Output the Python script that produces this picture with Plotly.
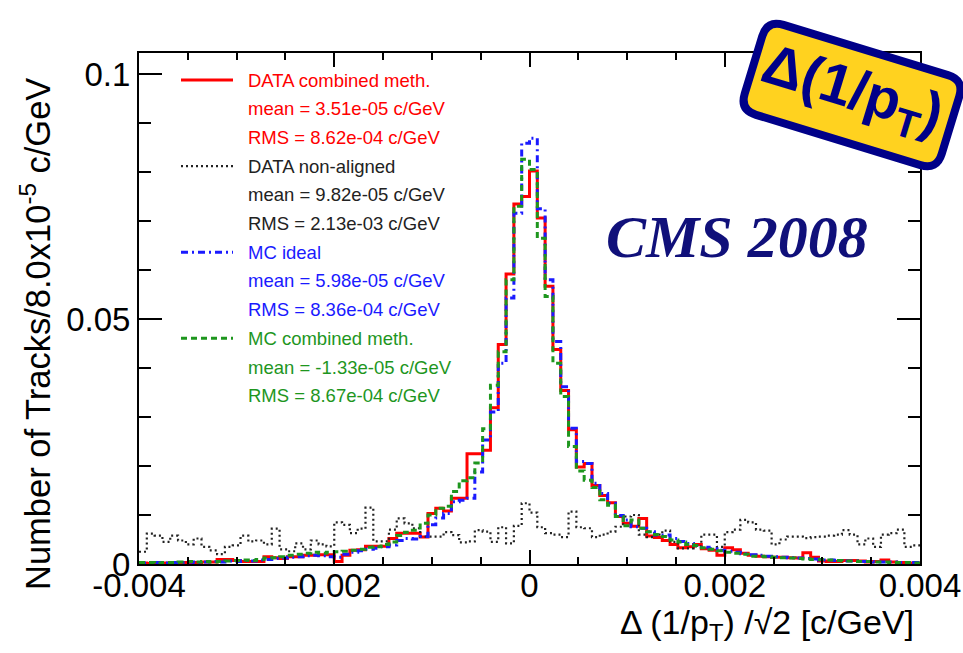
import math
import numpy as np
import plotly.graph_objects as go

# ---------------- data ----------------
x_min, x_max, n_bins = -0.004, 0.004, 100
bin_edges = np.linspace(x_min, x_max, n_bins + 1)

data_combined = [
    0.0002, 0.0001, 0.0002, 0.0002, 0.0003, 0.0003, 0.0002, 0.0003, 0.0004, 0.0004,
    0.0009, 0.0009, 0.0007, 0.0005, 0.0005, 0.0005, 0.0015, 0.0013, 0.0011, 0.0015,
    0.0015, 0.0018, 0.0018, 0.0019, 0.0019, 0.0005, 0.0018, 0.0028, 0.0029, 0.0036,
    0.0036, 0.0036, 0.0052, 0.0063, 0.0063, 0.0063, 0.0055, 0.0103, 0.0114, 0.0108,
    0.0134, 0.0134, 0.0225, 0.0225, 0.0232, 0.0319, 0.0448, 0.0592, 0.0735, 0.0750,
    0.0802, 0.0706, 0.0567, 0.0438, 0.0354, 0.0274, 0.0198, 0.0205, 0.0160, 0.0140,
    0.0125, 0.0097, 0.0083, 0.0077, 0.0093, 0.0057, 0.0054, 0.0048, 0.0040, 0.0033,
    0.0035, 0.0040, 0.0031, 0.0028, 0.0018, 0.0033, 0.0029, 0.0022, 0.0018, 0.0016,
    0.0015, 0.0014, 0.0014, 0.0013, 0.0012, 0.0023, 0.0014, 0.0006, 0.0005, 0.0005,
    0.0007, 0.0007, 0.0006, 0.0004, 0.0005, 0.0008, 0.0004, 0.0003, 0.0002, 0.0002,
]
data_nonaligned = [
    0.0025, 0.0062, 0.0058, 0.0045, 0.0058, 0.0048, 0.0040, 0.0052, 0.0035, 0.0028,
    0.0020, 0.0035, 0.0038, 0.0058, 0.0046, 0.0048, 0.0040, 0.0072, 0.0030, 0.0026,
    0.0042, 0.0030, 0.0048, 0.0040, 0.0036, 0.0085, 0.0080, 0.0063, 0.0072, 0.0115,
    0.0046, 0.0046, 0.0070, 0.0093, 0.0083, 0.0073, 0.0056, 0.0056, 0.0056, 0.0065,
    0.0059, 0.0044, 0.0046, 0.0069, 0.0066, 0.0045, 0.0075, 0.0042, 0.0078, 0.0124,
    0.0105, 0.0075, 0.0063, 0.0060, 0.0055, 0.0107, 0.0075, 0.0073, 0.0055, 0.0060,
    0.0066, 0.0076, 0.0097, 0.0100, 0.0060, 0.0055, 0.0060, 0.0068, 0.0045, 0.0032,
    0.0032, 0.0036, 0.0060, 0.0060, 0.0035, 0.0065, 0.0070, 0.0090, 0.0085, 0.0070,
    0.0068, 0.0040, 0.0050, 0.0056, 0.0056, 0.0053, 0.0055, 0.0056, 0.0058, 0.0060,
    0.0069, 0.0060, 0.0040, 0.0052, 0.0035, 0.0060, 0.0063, 0.0070, 0.0035, 0.0038,
]
mc_ideal = [
    0.0002, 0.0002, 0.0003, 0.0002, 0.0003, 0.0003, 0.0004, 0.0003, 0.0004, 0.0005,
    0.0004, 0.0006, 0.0005, 0.0007, 0.0006, 0.0008, 0.0009, 0.0011, 0.0012, 0.0014,
    0.0015, 0.0017, 0.0018, 0.0017, 0.0015, 0.0014, 0.0020, 0.0024, 0.0027, 0.0030,
    0.0032, 0.0035, 0.0039, 0.0048, 0.0052, 0.0051, 0.0056, 0.0080, 0.0094, 0.0103,
    0.0127, 0.0130, 0.0134, 0.0188, 0.0253, 0.0310, 0.0410, 0.0543, 0.0716, 0.0859,
    0.0869, 0.0725, 0.0580, 0.0454, 0.0362, 0.0277, 0.0209, 0.0205, 0.0165, 0.0144,
    0.0124, 0.0099, 0.0090, 0.0076, 0.0073, 0.0066, 0.0059, 0.0059, 0.0052, 0.0046,
    0.0042, 0.0038, 0.0034, 0.0031, 0.0028, 0.0026, 0.0024, 0.0021, 0.0019, 0.0018,
    0.0016, 0.0015, 0.0014, 0.0013, 0.0012, 0.0011, 0.0010, 0.0008, 0.0008, 0.0007,
    0.0006, 0.0006, 0.0005, 0.0005, 0.0004, 0.0004, 0.0004, 0.0003, 0.0003, 0.0003,
]
mc_combined = [
    0.0003, 0.0003, 0.0002, 0.0003, 0.0003, 0.0004, 0.0005, 0.0004, 0.0005, 0.0004,
    0.0005, 0.0006, 0.0007, 0.0008, 0.0007, 0.0009, 0.0012, 0.0013, 0.0015, 0.0018,
    0.0020, 0.0022, 0.0024, 0.0022, 0.0024, 0.0025, 0.0026, 0.0028, 0.0030, 0.0034,
    0.0035, 0.0040, 0.0045, 0.0058, 0.0065, 0.0069, 0.0083, 0.0100, 0.0114, 0.0118,
    0.0148, 0.0170, 0.0176, 0.0206, 0.0276, 0.0365, 0.0433, 0.0580, 0.0730, 0.0826,
    0.0805, 0.0665, 0.0546, 0.0410, 0.0342, 0.0240, 0.0190, 0.0171, 0.0156, 0.0131,
    0.0120, 0.0097, 0.0078, 0.0090, 0.0073, 0.0066, 0.0060, 0.0056, 0.0049, 0.0045,
    0.0040, 0.0038, 0.0033, 0.0030, 0.0027, 0.0024, 0.0022, 0.0020, 0.0016, 0.0016,
    0.0015, 0.0014, 0.0013, 0.0012, 0.0011, 0.0010, 0.0009, 0.0009, 0.0008, 0.0007,
    0.0006, 0.0006, 0.0005, 0.0005, 0.0004, 0.0004, 0.0003, 0.0003, 0.0003, 0.0002,
]

series_names = ["DATA combined meth.", "DATA non-aligned", "MC ideal", "MC combined meth."]
series_means = ["3.51e-05", "9.82e-05", "5.98e-05", "-1.33e-05"]
series_rms = ["8.62e-04", "2.13e-03", "8.36e-04", "8.67e-04"]
series_values = [data_combined, data_nonaligned, mc_ideal, mc_combined]
series_colors = ["#ff0000", "#222222", "#1a1aff", "#1e961e"]
series_dash = ["solid", "2px,3px", "7px,4px,2px,4px", "6px,4px"]
series_width = [3, 2.2, 3, 3]

x_ticks = [-0.004, -0.002, 0, 0.002, 0.004]
x_ticktext = ["-0.004", "-0.002", "0", "0.002", "0.004"]
y_ticks = [0, 0.05, 0.1]
y_ticktext = ["0", "0.05", "0.1"]

FONT = "Liberation Sans, Arial, Helvetica, sans-serif"

# ---------------- geometry helpers (page pixels -> paper) ----------------
WIDTH, HEIGHT = 963, 653
L, R, T, B = 139, 43, 53, 89
PW, PH = WIDTH - L - R, HEIGHT - T - B


def px(x):
    return (x - L) / PW


def py(y):
    return (HEIGHT - B - y) / PH


fig = go.Figure()

for i in [0, 1, 2, 3]:
    vals = list(series_values[i])
    fig.add_trace(go.Scatter(
        x=bin_edges, y=vals + [vals[-1]],
        mode="lines", line=dict(shape="hv", color=series_colors[i],
                                width=series_width[i], dash=series_dash[i]),
        name=series_names[i], showlegend=False, hoverinfo="skip",
    ))

shapes = []
annotations = []

# legend
row_y0 = 80
row_step = 28.7
for k in range(4):
    y_first = row_y0 + 3 * k * row_step
    shapes.append(dict(type="line", xref="paper", yref="paper",
                       x0=px(181), x1=px(233), y0=py(y_first), y1=py(y_first),
                       line=dict(color=series_colors[k], width=series_width[k],
                                 dash=series_dash[k])))
    lines = [series_names[k], f"mean = {series_means[k]} c/GeV", f"RMS = {series_rms[k]} c/GeV"]
    for j, txt in enumerate(lines):
        annotations.append(dict(
            xref="paper", yref="paper", x=px(246), y=py(y_first + j * row_step),
            xanchor="left", yanchor="middle", showarrow=False, text=txt,
            font=dict(family=FONT, size=18.5, color=series_colors[k])))

# CMS 2008
annotations.append(dict(xref="paper", yref="paper", x=px(737), y=py(237),
                        xanchor="center", yanchor="middle", showarrow=False,
                        text="<b><i>CMS 2008</i></b>",
                        font=dict(family="Liberation Serif, Times New Roman, serif",
                                  size=60, color="#10107a")))

# badge (rotated rounded rectangle)
cx, cy, bw, bh, rr, ang = 852, 95, 206, 94, 17, math.radians(17)


def rot(u, v):
    X = cx + u * math.cos(ang) - v * math.sin(ang)
    Y = cy + u * math.sin(ang) + v * math.cos(ang)
    return f"{px(X):.5f},{py(Y):.5f}"


hw, hh = bw / 2, bh / 2
path = (f"M {rot(-hw + rr, -hh)} L {rot(hw - rr, -hh)} Q {rot(hw, -hh)} {rot(hw, -hh + rr)} "
        f"L {rot(hw, hh - rr)} Q {rot(hw, hh)} {rot(hw - rr, hh)} "
        f"L {rot(-hw + rr, hh)} Q {rot(-hw, hh)} {rot(-hw, hh - rr)} "
        f"L {rot(-hw, -hh + rr)} Q {rot(-hw, -hh)} {rot(-hw + rr, -hh)} Z")
shapes.append(dict(type="path", xref="paper", yref="paper", path=path,
                   fillcolor="#ffd21f", line=dict(color="#000088", width=8), layer="above"))
annotations.append(dict(xref="paper", yref="paper", x=px(852), y=py(92),
                        xanchor="center", yanchor="middle", showarrow=False, textangle=17,
                        text="<b>Δ(1/p<sub>T</sub>)</b>",
                        font=dict(family=FONT, size=57, color="#000088")))

# axis titles
annotations.append(dict(xref="paper", yref="paper", x=px(35), y=py(334),
                        xanchor="center", yanchor="middle", showarrow=False, textangle=-90,
                        text="Number of Tracks/8.0x10<sup>-5</sup> c/GeV",
                        font=dict(family=FONT, size=34.5, color="black")))
annotations.append(dict(xref="paper", yref="paper", x=px(916), y=py(624),
                        xanchor="right", yanchor="middle", showarrow=False,
                        text="Δ (1/p<sub>T</sub>) /√2 [c/GeV]",
                        font=dict(family=FONT, size=34, color="black")))

fig.update_layout(
    width=WIDTH, height=HEIGHT,
    margin=dict(l=L, r=R, t=T, b=B, pad=0),
    paper_bgcolor="white", plot_bgcolor="white",
    showlegend=False,
    shapes=shapes, annotations=annotations,
    xaxis=dict(range=[x_min, x_max], tickvals=x_ticks, ticktext=x_ticktext,
               automargin=False, ticklabelstandoff=-9,
               ticks="inside", ticklen=14, tickwidth=1.5, tickcolor="black",
               minor=dict(dtick=0.0005, ticks="inside", ticklen=7, tickwidth=1.5, tickcolor="black"),
               showline=True, linecolor="black", linewidth=2, mirror="ticks",
               showgrid=False, zeroline=False,
               tickfont=dict(family=FONT, size=33, color="black")),
    yaxis=dict(range=[0, 0.1043], tickvals=y_ticks, ticktext=y_ticktext,
               automargin=False,
               ticks="inside", ticklen=23, tickwidth=1.5, tickcolor="black",
               minor=dict(dtick=0.01, ticks="inside", ticklen=12, tickwidth=1.5, tickcolor="black"),
               showline=True, linecolor="black", linewidth=2, mirror="ticks",
               showgrid=False, zeroline=False,
               tickfont=dict(family=FONT, size=33, color="black")),
)

fig.write_html("out.html")
